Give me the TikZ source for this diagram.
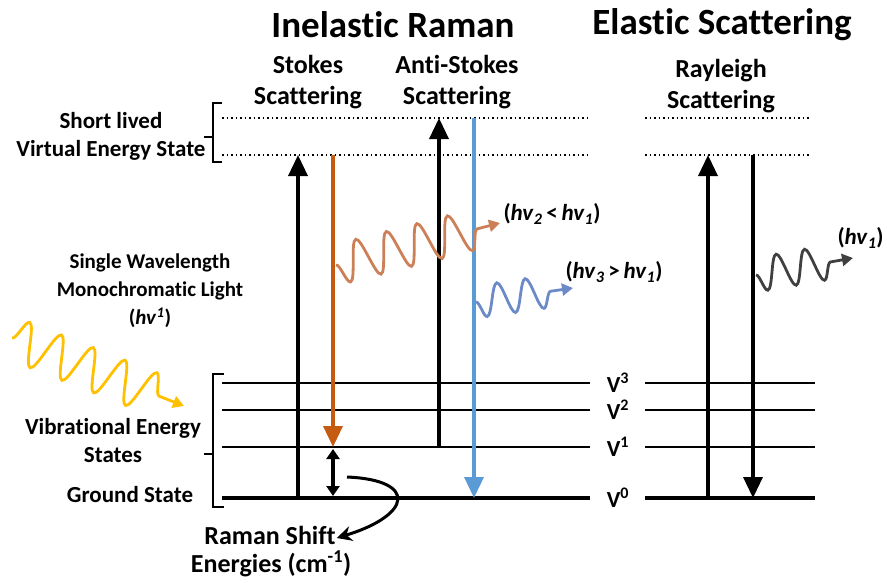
\documentclass[tikz,border=0pt]{standalone}
\usepackage{fontspec}
\setmainfont{Carlito}[Ligatures=NoCommon]
\usetikzlibrary{arrows.meta,positioning,decorations.pathmorphing,calc}
\definecolor{stokes}{RGB}{197,90,17}
\definecolor{antistokes}{RGB}{91,155,213}
\definecolor{laser}{RGB}{255,192,0}
\definecolor{stokeswave}{RGB}{204,128,88}
\definecolor{aswave}{RGB}{108,138,200}
\definecolor{rayleighwave}{RGB}{64,64,64}

\begin{document}
\begin{tikzpicture}[x=1pt,y=-1pt,
    title/.style={font=\bfseries\fontsize{37}{40}\selectfont},
    head/.style={font=\bfseries\fontsize{26}{31}\selectfont,align=center},
    lbl/.style={font=\bfseries\fontsize{23}{28}\selectfont,align=center},
    level/.style={line width=2.3pt},
    virt/.style={line width=2pt,dash pattern=on 1.5pt off 3pt},
    bigup/.style={line width=3.5pt,-{Triangle[length=21pt,width=19pt]}},
    photon/.style 2 args={line width=2.8pt,decorate,
      decoration={snake,amplitude=#1,segment length=#2,post length=12pt},
      -{Triangle[length=11pt,width=12pt]}}]
    \useasboundingbox (0,0) rectangle (887,582);
    % headings
    \node[title] (inel) at (393,25) {Inelastic Raman};
    \node[title] (elas) at (722,25) {Elastic Scattering};
    \node[head] (stk) at (308,82) {Stokes\\Scattering};
    \node[head] (astk) at (457,82) {Anti-Stokes\\Scattering};
    \node[head] (ray) at (721,86) {Rayleigh\\Scattering};
    % virtual states
    \draw[virt] (222,118) -- (590,118);
    \draw[virt] (222,155) -- (590,155);
    \draw[virt] (645,118) -- (810,118);
    \draw[virt] (645,155) -- (810,155);
    \draw[line width=1.5pt] (222,103) -- (213,103) -- (213,162) -- (222,162);
    \draw[line width=1.5pt] (213,137) -- (204,137);
    \node[lbl,left] (virtual) at (209,136) {Short lived\\Virtual Energy State};
    % vibrational states
    \foreach \y/\v in {383/3,410/2,447/1} {
        \draw[level] (222,\y) -- (590,\y);
        \draw[level] (645,\y) -- (815,\y);
        \node[font=\bfseries\fontsize{23}{26}\selectfont] (v\v) at (618,\y) {V\textsuperscript{\v}};
    }
    \draw[line width=4pt] (222,498) -- (590,498);
    \draw[line width=4pt] (645,498) -- (815,498);
    \node[font=\bfseries\fontsize{23}{26}\selectfont] (v0) at (618,498) {V\textsuperscript{0}};
    \draw[line width=1.5pt] (224,374) -- (213,374) -- (213,507) -- (224,507);
    \draw[line width=1.5pt] (213,454) -- (204,454);
    \node[lbl] (vib) at (113,441) {Vibrational Energy\\States};
    \node[lbl] (ground) at (130,495) {Ground State};
    % incoming light
    \node[lbl,font=\bfseries\fontsize{21}{28}\selectfont] (light) at (150,291) {Single Wavelength\\Monochromatic Light\\(\textit{hv}\textsuperscript{\textit{1}})};
    \coordinate (lin) at (12,338);
    \coordinate (lout) at (184,406);
    \draw[photon={21pt}{34.2pt},laser] (lin) -- (lout);
    % transitions
    \coordinate (s0) at (298,498);
    \coordinate (s1) at (298,155);
    \coordinate (sd0) at (333,155);
    \coordinate (sd1) at (333,447);
    \coordinate (a0) at (439,447);
    \coordinate (a1) at (439,118);
    \coordinate (ad0) at (474,118);
    \coordinate (ad1) at (474,498);
    \coordinate (r0) at (708,498);
    \coordinate (r1) at (708,155);
    \coordinate (rd0) at (753,155);
    \coordinate (rd1) at (753,498);
    \draw[bigup] (s0) -- (s1);
    \draw[bigup,stokes] (sd0) -- (sd1);
    \draw[bigup] (a0) -- (a1);
    \draw[bigup,antistokes] (ad0) -- (ad1);
    \draw[bigup] (r0) -- (r1);
    \draw[bigup] (rd0) -- (rd1);
    % raman shift
    \coordinate (sh0) at (333,449);
    \coordinate (sh1) at (333,496);
    \draw[line width=3.5pt,{Triangle[length=10pt,width=13pt]}-{Triangle[length=10pt,width=13pt]}] (sh0) -- (sh1);
    \node[head,inner sep=1pt,text height=17pt,text depth=5pt] (shift) at (270,538) {Raman Shift};
    \node[head,inner sep=1pt,text height=17pt,text depth=5pt] (energies) at (271,566) {Energies (cm\textsuperscript{-1})};
    \coordinate (cv) at (347,477);
    \draw[line width=3pt,-{Stealth[length=15pt,width=15pt]}] (cv) .. controls (418,480) and (412,515) .. (shift.east);
    % scattered photons
    \coordinate (sw0) at (336,265);
    \coordinate (sw1) at (500,223);
    \draw[photon={-20pt}{31.5pt},stokeswave] (sw0) -- (sw1);
    \node[lbl,right] (sl) at (500,214) {(\textit{hv}\textsubscript{\textit{2}}\,<\,\textit{hv}\textsubscript{\textit{1}})};
    \coordinate (aw0) at (476,302);
    \coordinate (aw1) at (573,288);
    \draw[photon={-16pt}{28.7pt},aswave] (aw0) -- (aw1);
    \node[lbl,right] (al) at (562,272) {(\textit{hv}\textsubscript{\textit{3}}\,>\,\textit{hv}\textsubscript{\textit{1}})};
    \coordinate (rw0) at (756,275);
    \coordinate (rw1) at (853,258);
    \draw[photon={-17pt}{28.8pt},rayleighwave] (rw0) -- (rw1);
    \node[lbl,right] (rl) at (834,238) {(\textit{hv}\textsubscript{\textit{1}})};
\end{tikzpicture}
\end{document}
